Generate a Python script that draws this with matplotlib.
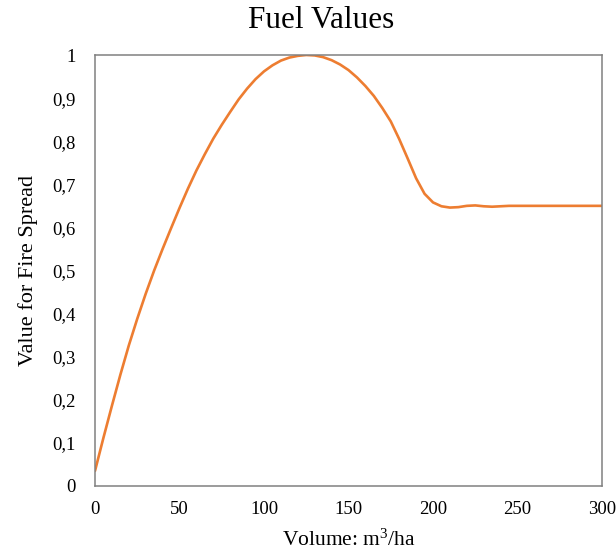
import matplotlib
matplotlib.use("Agg")
import matplotlib.pyplot as plt

# volume (m3/ha) and value for fire spread
volume = [0, 5, 10, 15, 20, 25, 30, 35, 40, 45, 50, 55, 60, 65, 70, 75, 80,
          85, 90, 95, 100, 105, 110, 115, 120, 125, 130, 135, 140, 145, 150,
          155, 160, 165, 170, 175, 180, 185, 190, 195, 200, 205, 210, 215,
          220, 225, 230, 235, 240, 245, 250, 260, 270, 280, 290, 300]
value = [0.035, 0.112, 0.186, 0.258, 0.326, 0.388, 0.446, 0.500, 0.550,
         0.598, 0.645, 0.690, 0.732, 0.770, 0.806, 0.838, 0.868, 0.897,
         0.922, 0.944, 0.962, 0.976, 0.987, 0.994, 0.998, 1.0, 0.999, 0.995,
         0.988, 0.978, 0.965, 0.948, 0.928, 0.905, 0.877, 0.846, 0.805,
         0.760, 0.714, 0.678, 0.658, 0.649, 0.646, 0.647, 0.650, 0.651,
         0.649, 0.648, 0.649, 0.650, 0.65, 0.65, 0.65, 0.65, 0.65, 0.65]

xticks = [0, 50, 100, 150, 200, 250, 300]
yticks = [0, 0.1, 0.2, 0.3, 0.4, 0.5, 0.6, 0.7, 0.8, 0.9, 1.0]
ytick_labels = ['0', '0,1', '0,2', '0,3', '0,4', '0,5', '0,6', '0,7', '0,8', '0,9', '1']

plt.rcParams['font.family'] = ['Liberation Serif', 'DejaVu Serif']
plt.rcParams['mathtext.fontset'] = 'custom'
plt.rcParams['mathtext.rm'] = 'Liberation Serif'

fig = plt.figure(figsize=(6.16, 5.51), dpi=100)
ax = fig.add_axes([95 / 616, 1 - 486 / 551, 507 / 616, 431 / 551])

ax.plot(volume, value, color='#ED7D31', linewidth=1.9, solid_capstyle='round',
        solid_joinstyle='round')

ax.set_xlim(0, 300)
ax.set_ylim(0, 1)
ax.set_xticks(xticks)
ax.set_yticks(yticks)
ax.set_yticklabels(ytick_labels)
ax.tick_params(length=0, labelsize=13.5)
ax.tick_params(axis='y', pad=14)
ax.tick_params(axis='x', pad=11)

for s in ax.spines.values():
    s.set_color('#808080')
    s.set_linewidth(1.1)

fig.text(321 / 616, 1 - 21 / 551, 'Fuel Values', fontsize=22.5,
         ha='center', va='center')
ax.set_xlabel('Volume: m$\\mathrm{^3}$/ha', fontsize=15.5, labelpad=8)
ax.set_ylabel('Value for Fire Spread', fontsize=16, labelpad=10)

fig.savefig('out.png', dpi=100)
